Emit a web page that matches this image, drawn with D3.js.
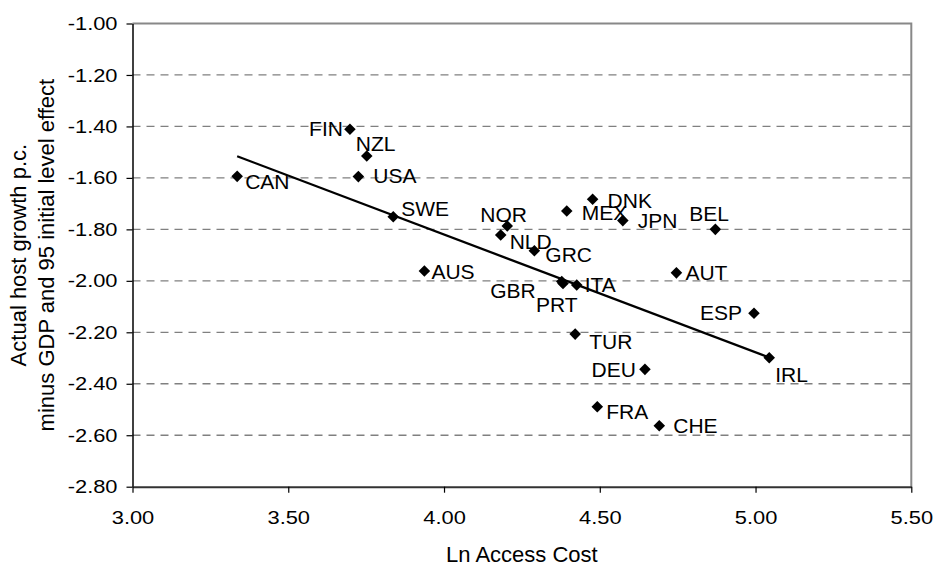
<!DOCTYPE html>
<html>
<head>
<meta charset="utf-8">
<script src="https://cdn.jsdelivr.net/npm/d3@7/dist/d3.min.js"></script>
<style>
  body { margin: 0; background: #fff; }
  text { font-family: "Liberation Sans", Arial, sans-serif; }
</style>
</head>
<body>
<div id="chart"></div>
<script>
// data
var countries = ["CAN","FIN","NZL","USA","SWE","AUS","NOR","NLD","GRC","GBR","PRT","ITA",
                 "DNK","MEX","JPN","BEL","AUT","ESP","TUR","DEU","IRL","FRA","CHE"];
var accessCost = [3.336,3.698,3.752,3.725,3.837,3.937,4.203,4.182,4.290,4.378,4.382,4.426,
                  4.477,4.394,4.574,4.871,4.746,4.995,4.421,4.645,5.044,4.492,4.691];
var growth = [-1.594,-1.411,-1.515,-1.595,-1.751,-1.962,-1.787,-1.822,-1.883,-2.003,-2.010,-2.016,
              -1.683,-1.729,-1.766,-1.800,-1.969,-2.126,-2.207,-2.344,-2.299,-2.489,-2.563];
var xTicks = [3.0, 3.5, 4.0, 4.5, 5.0, 5.5];
var yTicks = [-1.0,-1.2,-1.4,-1.6,-1.8,-2.0,-2.2,-2.4,-2.6,-2.8];
// linear trend as drawn
var trendSlope = -0.458;
var trendIntercept = 0.012;

// where each label sits relative to its marker (pixels)
var labelPos = {
  CAN:[8,5,"start"], FIN:[-7,-1,"end"], NZL:[-11,-13,"start"], USA:[15,-1,"start"],
  SWE:[8,-8,"start"], AUS:[7,0,"start"], NOR:[-27,-12,"start"], NLD:[9,6,"start"],
  GRC:[11,4,"start"], GBR:[-26,9,"end"], PRT:[-27,21,"start"], ITA:[8,0,"start"],
  DNK:[15,1,"start"], MEX:[15,1,"start"], JPN:[15,0,"start"], BEL:[-26,-16,"start"],
  AUT:[9,0,"start"], ESP:[-12,-1,"end"], TUR:[14,7,"start"], DEU:[-9,0,"end"],
  IRL:[6,17,"start"], FRA:[9,5,"start"], CHE:[14,0,"start"]
};

var width = 933, height = 569;
var plotL = 132.5, plotR = 911.3, plotT = 23.5, plotB = 486.7;

var svg = d3.select("#chart").append("svg")
  .attr("width", width)
  .attr("height", height)
  .style("background-color", "#fff");

var x = d3.scaleLinear().domain([3, 5.5]).range([plotL, plotR]);
var y = d3.scaleLinear().domain([-2.8, -1]).range([plotB, plotT]);

// dashed gridlines
svg.append("g").selectAll("line")
  .data(yTicks.filter(function(d){ return d < -1.001 && d > -2.799; }))
  .enter().append("line")
  .attr("x1", plotL).attr("x2", plotR)
  .attr("y1", function(d){ return y(d); })
  .attr("y2", function(d){ return y(d); })
  .attr("stroke", "#808080")
  .attr("stroke-width", 1.3)
  .attr("stroke-dasharray", "8,6");

// top and right border
svg.append("path")
  .attr("d", "M" + plotL + "," + y(-1) + "H" + plotR + "V" + plotB)
  .attr("fill", "none")
  .attr("stroke", "#888")
  .attr("stroke-width", 2);

var fmt = function(d){ return d.toFixed(2); };

var yAxis = svg.append("g")
  .attr("transform", "translate(" + plotL + ",0)")
  .call(d3.axisLeft(y).tickValues(yTicks).tickFormat(fmt).tickSize(6).tickSizeOuter(0).tickPadding(9));
var xAxis = svg.append("g")
  .attr("transform", "translate(0," + plotB + ")")
  .call(d3.axisBottom(x).tickValues(xTicks).tickFormat(fmt).tickSize(6).tickSizeOuter(0).tickPadding(18));

[yAxis, xAxis].forEach(function(ax){
  ax.select(".domain").attr("stroke", "#000").attr("stroke-width", 1.5);
  ax.selectAll(".tick line").attr("stroke", "#000").attr("stroke-width", 1.2);
  ax.selectAll(".tick text")
    .attr("fill", "#000")
    .style("font-size", "19px")
    .style("font-family", "'Liberation Sans', Arial, sans-serif")
    .each(function(){
      var w = this.getComputedTextLength();
      d3.select(this).attr("textLength", w * 1.15).attr("lengthAdjust", "spacingAndGlyphs");
    });
});
xAxis.select(".domain").attr("stroke", "#333").attr("stroke-width", 2);

// trend line over the data range
var xMin = d3.min(accessCost), xMax = d3.max(accessCost);
svg.append("line")
  .attr("x1", x(xMin)).attr("y1", y(trendIntercept + trendSlope * xMin))
  .attr("x2", x(xMax)).attr("y2", y(trendIntercept + trendSlope * xMax))
  .attr("stroke", "#000")
  .attr("stroke-width", 2.3);

var pts = countries.map(function(c, i){ return {name: c, x: accessCost[i], y: growth[i]}; });

svg.append("g").selectAll("path")
  .data(pts)
  .enter().append("path")
  .attr("d", d3.symbol().type(d3.symbolDiamond2).size(85))
  .attr("transform", function(d){ return "translate(" + x(d.x) + "," + y(d.y) + ")"; })
  .attr("fill", "#000");

svg.append("g").selectAll("text")
  .data(pts)
  .enter().append("text")
  .attr("x", function(d){ return x(d.x) + labelPos[d.name][0]; })
  .attr("y", function(d){ return y(d.y) + labelPos[d.name][1]; })
  .attr("text-anchor", function(d){ return labelPos[d.name][2]; })
  .attr("dominant-baseline", "central")
  .attr("font-size", "21px")
  .attr("fill", "#000")
  .text(function(d){ return d.name; });

// axis titles
svg.append("text")
  .attr("x", (plotL + plotR) / 2)
  .attr("y", 562)
  .attr("text-anchor", "middle")
  .attr("font-size", "22px")
  .text("Ln Access Cost");

var yt = svg.append("text")
  .attr("transform", "translate(0," + (plotT + plotB) / 2 + ") rotate(-90)")
  .attr("text-anchor", "middle")
  .attr("font-size", "22px");
yt.append("tspan").attr("x", 0).attr("y", 26).text("Actual host growth p.c.");
yt.append("tspan").attr("x", 0).attr("y", 54).text("minus GDP and 95 initial level effect");
</script>
</body>
</html>
